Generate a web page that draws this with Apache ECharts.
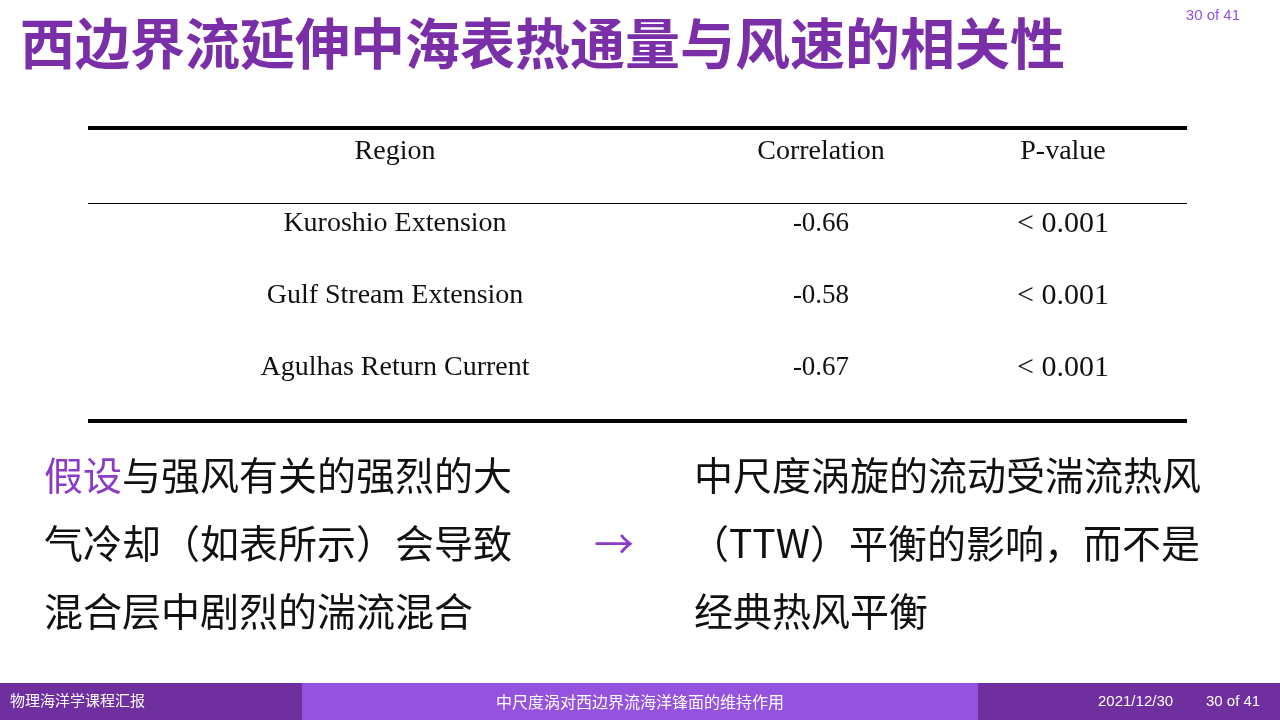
<!DOCTYPE html>
<html><head><meta charset="utf-8">
<script src="https://cdn.jsdelivr.net/npm/echarts@6/dist/echarts.min.js"></script>
<style>html,body{margin:0;padding:0;background:#fff}#c{width:1280px;height:720px}</style>
</head><body><div id="c"></div>
<script>
const headers = ['Region', 'Correlation', 'P-value'];
const regions = ['Kuroshio Extension', 'Gulf Stream Extension', 'Agulhas Return Current'];
const correlations = ['-0.66', '-0.58', '-0.67'];
const pvalues = ['< 0.001', '< 0.001', '< 0.001'];
const title = '西边界流延伸中海表热通量与风速的相关性';
const leftLines = ['与强风有关的强烈的大', '气冷却（如表所示）会导致', '混合层中剧烈的湍流混合'];
const rightLines = ['中尺度涡旋的流动受湍流热风', '（TTW）平衡的影响，而不是', '经典热风平衡'];
const footer = ['物理海洋学课程汇报', '中尺度涡对西边界流海洋锋面的维持作用', '2021/12/30', '30 of 41'];

const chart = echarts.init(document.getElementById('c'));
const serif = '"Liberation Serif", "DejaVu Serif", serif';
const cjk = '"Noto Sans CJK SC", sans-serif';
const g = [];
const colX = [395, 821, 1063];
g.push({type:'text', right: 40, top: 8, style:{text:'30 of 41', fill:'#9452de', font:'15px Arial, sans-serif'}});
g.push({type:'text', left: 20, top: 16, style:{text:title, fill:'#7a2fa8', font:'bold 55px '+cjk}});
g.push({type:'rect', shape:{x:88,y:126,width:1099,height:4}, style:{fill:'#000'}});
g.push({type:'rect', shape:{x:88,y:203,width:1099,height:1}, style:{fill:'#000'}});
g.push({type:'rect', shape:{x:88,y:419,width:1099,height:4}, style:{fill:'#000'}});
headers.forEach((h,i)=>g.push({type:'text', x:colX[i], y:152, style:{text:h, fill:'#111', font:'28px '+serif, align:'center', verticalAlign:'middle'}}));
regions.forEach((r,i)=>{
  const y = 224 + i*72;
  g.push({type:'text', x:colX[0], y:y, style:{text:r, fill:'#111', font:'28px '+serif, align:'center', verticalAlign:'middle'}});
  g.push({type:'text', x:colX[1], y:y, style:{text:correlations[i], fill:'#111', font:'27px '+serif, align:'center', verticalAlign:'middle'}});
  g.push({type:'text', x:colX[2], y:y, style:{text:pvalues[i], fill:'#111', font:'30px '+serif, align:'center', verticalAlign:'middle'}});
});
leftLines.forEach((t,i)=>{
  const y = 480 + i*68;
  if(i===0){
    g.push({type:'text', left:44, top:y-24, style:{text:'{a|假设}{b|'+t+'}', rich:{a:{fill:'#8a3cc8',font:'39px '+cjk},b:{fill:'#111',font:'39px '+cjk}}}});
  } else {
    g.push({type:'text', left:44, top:y-24, style:{text:t, fill:'#111', font:'39px '+cjk}});
  }
});
g.push({type:'text', left:594, top:524, style:{text:'→', fill:'#8a3cc8', font:'40px '+cjk}});
rightLines.forEach((t,i)=>g.push({type:'text', left:i===1?690:694, top:456+i*68, style:{text:t, fill:'#111', font:'39px '+cjk}}));
g.push({type:'rect', shape:{x:0,y:683,width:302,height:37}, style:{fill:'#6f2f9f'}});
g.push({type:'rect', shape:{x:302,y:683,width:676,height:37}, style:{fill:'#9452de'}});
g.push({type:'rect', shape:{x:978,y:683,width:302,height:37}, style:{fill:'#6f2f9f'}});
g.push({type:'text', left:10, top:693, style:{text:footer[0], fill:'#fff', font:'15px '+cjk}});
g.push({type:'text', x:640, y:702, style:{text:footer[1], fill:'#fff', font:'16px '+cjk, align:'center', verticalAlign:'middle'}});
g.push({type:'text', x:1098, y:702, style:{text:footer[2], fill:'#fff', font:'15px Arial, sans-serif', verticalAlign:'middle'}});
g.push({type:'text', x:1206, y:702, style:{text:footer[3], fill:'#fff', font:'15px Arial, sans-serif', verticalAlign:'middle'}});
chart.setOption({animation:false, graphic: g});
</script></body></html>
